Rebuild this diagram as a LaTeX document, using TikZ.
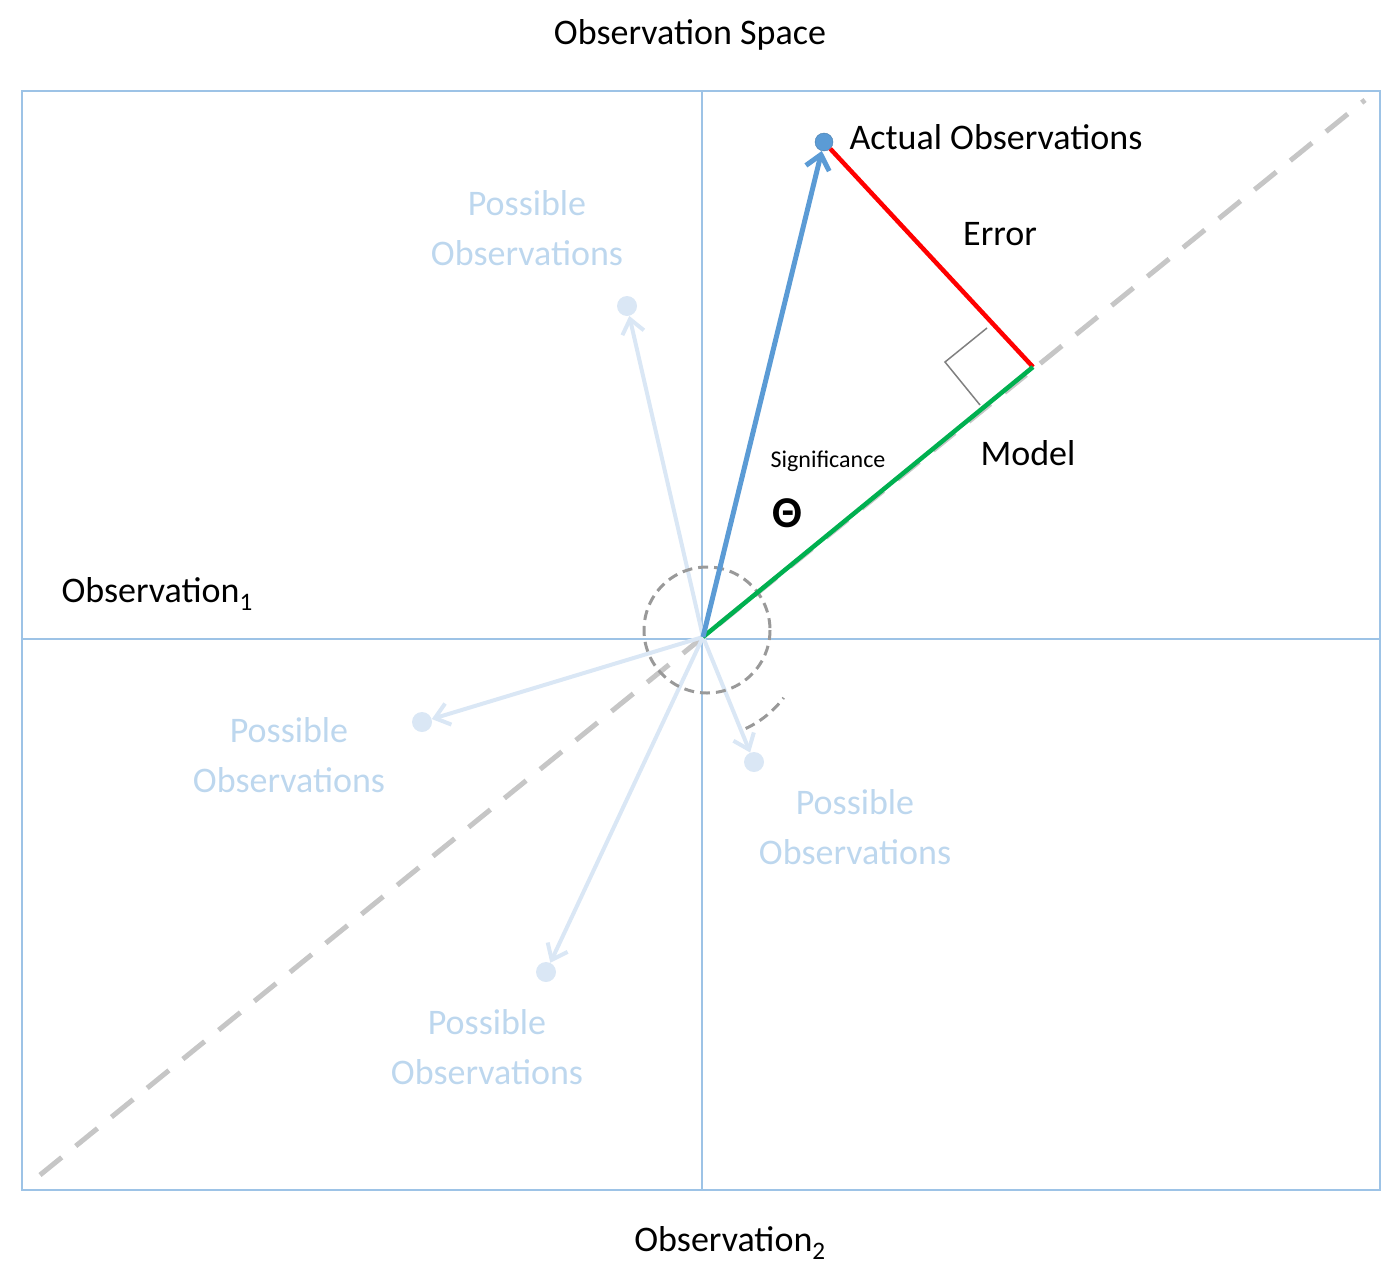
\documentclass[tikz,border=0pt]{standalone}
\usepackage{fontspec}
\setmainfont{Carlito}
\usetikzlibrary{arrows.meta}
\definecolor{frame}{HTML}{9DC3E6}
\definecolor{mblue}{HTML}{5B9BD5}
\definecolor{pale}{HTML}{DAE7F5}
\definecolor{paletext}{HTML}{BDD7EE}
\definecolor{mred}{HTML}{FF0000}
\definecolor{mgreen}{HTML}{00B050}
\tikzset{
 lbl/.style={font=\fontsize{36}{40}\selectfont},
 plbl/.style={font=\fontsize{36}{50}\selectfont,text=paletext,align=center},
 palearrow/.style={pale,line width=4pt,-{Straight Barb[length=14pt,width=22pt]}},
 paledot/.style={circle,fill=pale,inner sep=0pt,minimum size=20pt}
}
\begin{document}
\begin{tikzpicture}[x=1pt,y=-1pt]
\useasboundingbox (0,0) rectangle (1400,1274);
\draw[frame,line width=1.5pt] (22,91) rectangle (1380,1190);
\draw[frame,line width=1.5pt] (702,91) -- (702,1190);
\draw[frame,line width=1.5pt] (22,639) -- (1380,639);
\coordinate (O) at (703,637);
\coordinate (dA) at (40,1175);
\coordinate (dB) at (1365,100);
\draw[gray!45,line width=5pt,dash pattern=on 28pt off 18pt] (dA) -- (dB);
% possible observations
\node[paledot] (p1) at (627,306) {};
\node[paledot] (p2) at (422,722) {};
\node[paledot] (p3) at (754,762) {};
\node[paledot] (p4) at (546,972) {};
\draw[palearrow] (O) -- (p1);
\draw[palearrow] (O) -- (p2);
\draw[palearrow] (O) -- (p3);
\draw[palearrow] (O) -- (p4);
% circle
\draw[gray!80,line width=3pt,dash pattern=on 10pt off 6pt] (707,630) circle (63);
\draw[gray!80,line width=3pt,dash pattern=on 10pt off 6pt] (O) ++(65:101) arc[start angle=65,end angle=37,radius=101];
% model
\coordinate (M) at (1033,367);
\node[circle,fill=mblue,draw=mblue!80!black,inner sep=0pt,minimum size=18pt] (A) at (824,142) {};
\draw[mred,line width=4.5pt] (A) -- (M);
\draw[mgreen,line width=4.5pt] (O) -- (M);
\draw[mblue,line width=5pt,-{Straight Barb[length=14pt,width=24pt]}] (O) -- (A);
\coordinate (r1) at (987,328);
\coordinate (r2) at (945,362);
\coordinate (r3) at (980,405);
\draw[gray,line width=1.5pt] (r1) -- (r2) -- (r3);
% labels
\node[lbl] (t) at (690,35) {Observation Space};
\node[lbl,anchor=west] (ta) at (846,137) {Actual Observations};
\node[lbl] (te) at (1000,234) {Error};
\node[lbl] (tm) at (1028,453) {Model};
\node[font=\fontsize{24}{28}\selectfont] (ts) at (828,461) {Significance};
\node[font=\fontsize{44}{48}\selectfont\bfseries] (tth) at (787,513) {Θ};
\node[lbl,anchor=west] (o1) at (58,594) {Observation\textsubscript{1}};
\node[lbl] (o2) at (730,1243) {Observation\textsubscript{2}};
\node[plbl] (l1) at (527,228) {Possible\\Observations};
\node[plbl] (l2) at (289,755) {Possible\\Observations};
\node[plbl] (l3) at (855,827) {Possible\\Observations};
\node[plbl] (l4) at (487,1047) {Possible\\Observations};
\end{tikzpicture}
\end{document}
